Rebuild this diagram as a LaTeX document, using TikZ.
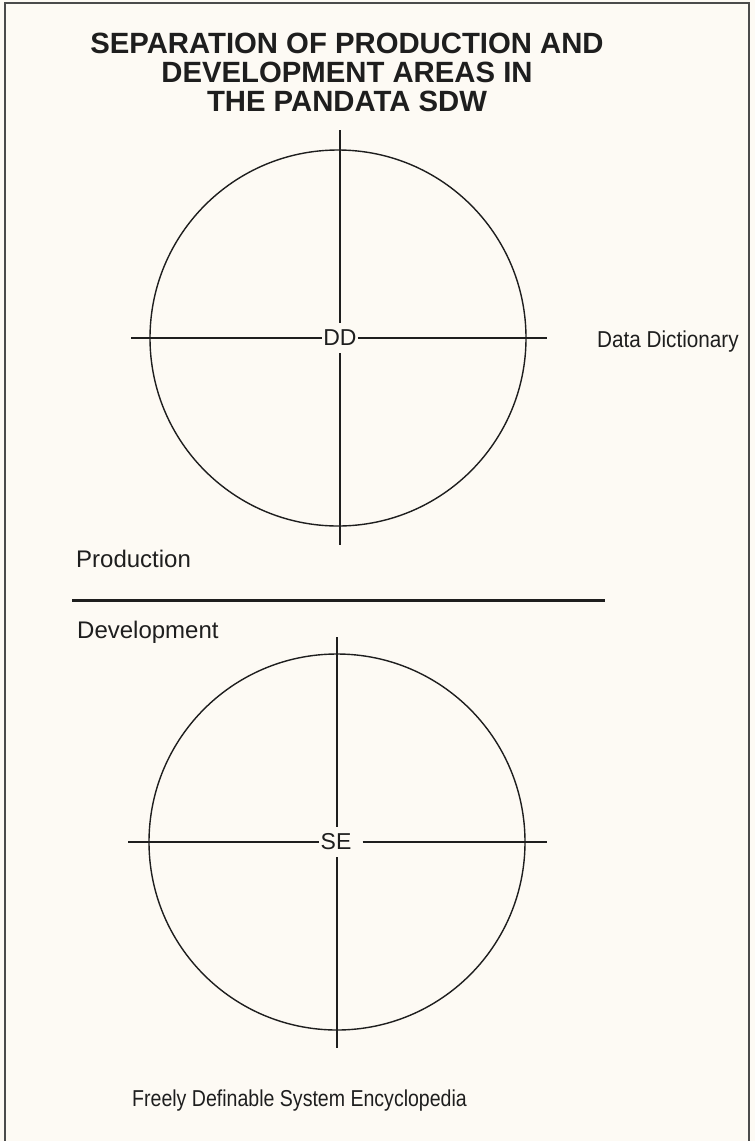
\documentclass[tikz,border=0pt]{standalone}
\usepackage{fontspec}
\usepackage{graphicx}
\setmainfont{Liberation Sans}
\definecolor{paper}{RGB}{253,250,244}
\definecolor{ink}{RGB}{30,30,30}
\begin{document}
\begin{tikzpicture}[x=1pt,y=-1pt,
  ring/.style={draw=ink,line width=1.4pt},
  axis/.style={draw=ink,line width=1.3pt},
  lbl/.style={text=ink,inner sep=0pt},
  hub/.style={font=\fontsize{23}{26}\selectfont,text=ink,inner xsep=1pt,inner ysep=7pt},
  ttl/.style={font=\fontsize{29.3}{29}\selectfont\bfseries,text=ink,align=center,inner sep=0pt}]
\fill[paper] (0,0) rectangle (755,1141);
\useasboundingbox (0,0) rectangle (755,1141);
\draw[draw=ink!80,line width=1.8pt] (5,1141) -- (5,3) -- (749,3) -- (749,1141);
% title
\node[ttl,anchor=north] (title) at (347,33) {SEPARATION OF PRODUCTION AND\\DEVELOPMENT AREAS IN\\THE PANDATA SDW};
% top circle
\draw[ring] (338,338) circle (188);
\node[hub] (dd) at (340,338) {DD};
\coordinate (ddtop) at (340,130);
\coordinate (ddbot) at (340,545);
\coordinate (ddleft) at (131,338);
\coordinate (ddright) at (547,338);
\draw[axis] (ddtop) -- (ddtop|-dd.north);
\draw[axis] (ddbot|-dd.south) -- (ddbot);
\draw[axis] (ddleft) -- (dd.west);
\draw[axis] (dd.east) -- (ddright);
\node[lbl,anchor=base west,font=\fontsize{23}{26}\selectfont] (dict) at (597,347) {\scalebox{0.9}[1]{Data Dictionary}};
% production / development
\node[lbl,anchor=base west,font=\fontsize{24}{28}\selectfont] (prod) at (76,567) {Production};
\coordinate (sepl) at (72,600);
\coordinate (sepr) at (605,600);
\draw[draw=ink,line width=3pt] (sepl) -- (sepr);
\node[lbl,anchor=base west,font=\fontsize{24}{28}\selectfont] (dev) at (77,638) {Development};
% bottom circle
\draw[ring] (337,842) circle (188);
\node[hub] (se) at (336,842) {SE};
\coordinate (setop) at (337,637);
\coordinate (sebot) at (337,1048);
\coordinate (seleft) at (128,842);
\coordinate (seright) at (547,842);
\draw[axis] (setop) -- (setop|-se.north);
\draw[axis] (sebot|-se.south) -- (sebot);
\draw[axis] (seleft) -- (se.west);
\draw[axis] ([xshift=10pt]se.east) -- (seright);
\node[lbl,anchor=base west,font=\fontsize{23}{26}\selectfont] (fdse) at (132,1106) {\scalebox{0.85}[1]{Freely Definable System Encyclopedia}};
\end{tikzpicture}
\end{document}
